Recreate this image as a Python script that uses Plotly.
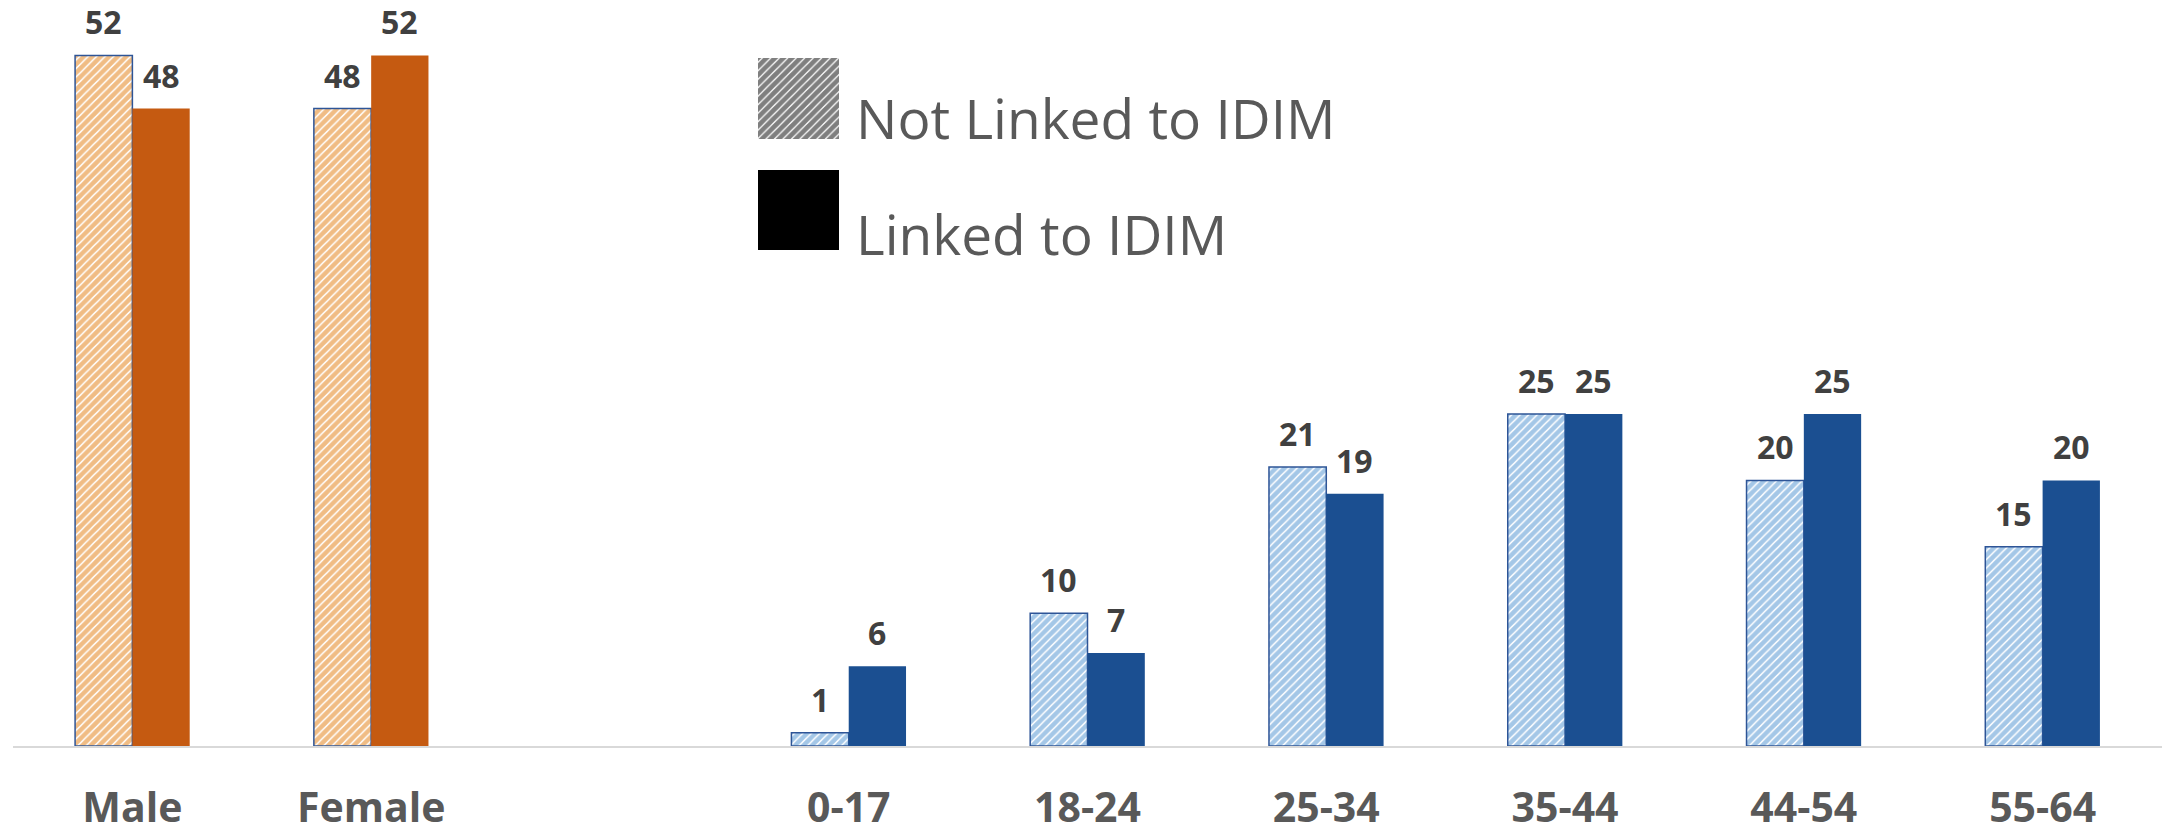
import plotly.graph_objects as go

# ---- data ----
categories = ["Male", "Female", " ", "0-17", "18-24", "25-34", "35-44", "44-54", "55-64"]
group = ["gender", "gender", "none", "age", "age", "age", "age", "age", "age"]
not_linked = [52, 48, None, 1, 10, 21, 25, 20, 15]
linked = [48, 52, None, 6, 7, 19, 25, 25, 20]
series_names = ["Not Linked to IDIM", "Linked to IDIM"]

# ---- styles ----
FONT = "Open Sans"
solid_col = {"gender": "#C55A11", "age": "#1B4F91", "none": "#FFFFFF"}
hatch_col = {"gender": "#E27A0A", "age": "#4A8FD0", "none": "#FFFFFF"}
outline = "#2E5597"

W, H = 2166, 828
ML, MR, MT, MB = 13, 4, 0, 82
px_per_unit = 13.28
plot_h = H - MT - MB
plot_w = W - ML - MR

fig = go.Figure()

fig.add_trace(go.Bar(
    x=categories, y=not_linked, name=series_names[0],
    marker=dict(
        color="white",
        pattern=dict(shape="/", fgcolor=[hatch_col[g] for g in group], bgcolor="white",
                     size=6, solidity=0.75),
        line=dict(color=outline, width=1.5),
    ),
    showlegend=False,
))
fig.add_trace(go.Bar(
    x=categories, y=linked, name=series_names[1],
    marker=dict(color=[solid_col[g] for g in group], line=dict(width=0)),
    showlegend=False,
))

# value labels
annotations = []
for vals, shift in ((not_linked, -1), (linked, 1)):
    for c, v in zip(categories, vals):
        if v is None:
            continue
        annotations.append(dict(
            x=c, y=v, xref="x", yref="y", text=str(v), showarrow=False,
            xanchor="center", yanchor="bottom", xshift=shift * 28.65, yshift=10,
            font=dict(family=FONT, size=32, color="#404040", weight="bold"),
        ))

# ---- custom legend (swatches on overlay axes) ----
def fx(px):
    return (px - ML) / plot_w

def fy(py):
    return (H - MB - py) / plot_h

# legend swatch block spans y 58..250 px; hatched 58..139, solid 170..250
sw_top, sw_bot = 58, 250
span = sw_bot - sw_top
fig.add_trace(go.Bar(
    x=[0], y=[(139 - 58) / span], base=[(sw_bot - 139) / span], width=[1], offset=-0.5,
    xaxis="x2", yaxis="y2", showlegend=False, hoverinfo="skip",
    marker=dict(color="white",
                pattern=dict(shape="/", fgcolor="black", bgcolor="white", size=6, solidity=0.8),
                line=dict(width=0)),
))
fig.add_trace(go.Bar(
    x=[0], y=[(sw_bot - 170) / span], base=[0], width=[1], offset=-0.5,
    xaxis="x2", yaxis="y2", showlegend=False, hoverinfo="skip",
    marker=dict(color="black", line=dict(width=0)),
))

for name, py in zip(series_names, (117, 233)):
    annotations.append(dict(
        x=fx(854), y=fy(py), xref="paper", yref="paper", text=name, showarrow=False,
        xanchor="left", yanchor="middle",
        font=dict(family=FONT, size=55, color="#595959"),
    ))

fig.update_layout(
    width=W, height=H,
    margin=dict(l=ML, r=MR, t=MT, b=MB, pad=0),
    paper_bgcolor="white", plot_bgcolor="white",
    barmode="group", bargap=0.52, bargroupgap=0,
    font=dict(family=FONT),
    annotations=annotations,
    xaxis=dict(
        type="category", categoryorder="array", categoryarray=categories,
        range=[-0.5, len(categories) - 0.5],
        showline=True, linecolor="#D9D9D9", linewidth=2,
        showgrid=False, zeroline=False, ticks="", ticklabelstandoff=25,
        tickfont=dict(family=FONT, size=41, color="#595959", weight="bold"),
        automargin=False, fixedrange=True,
    ),
    yaxis=dict(
        range=[0, plot_h / px_per_unit], visible=False, showgrid=False,
        zeroline=False, automargin=False, fixedrange=True,
    ),
    xaxis2=dict(domain=[fx(758), fx(839)], range=[-0.5, 0.5], visible=False,
                anchor="y2", fixedrange=True),
    yaxis2=dict(domain=[fy(sw_bot), fy(sw_top)], range=[0, 1], visible=False,
                anchor="x2", fixedrange=True),
)

fig.write_html("out.html", post_script="document.body.style.margin='0';",
               config={"displayModeBar": False})
